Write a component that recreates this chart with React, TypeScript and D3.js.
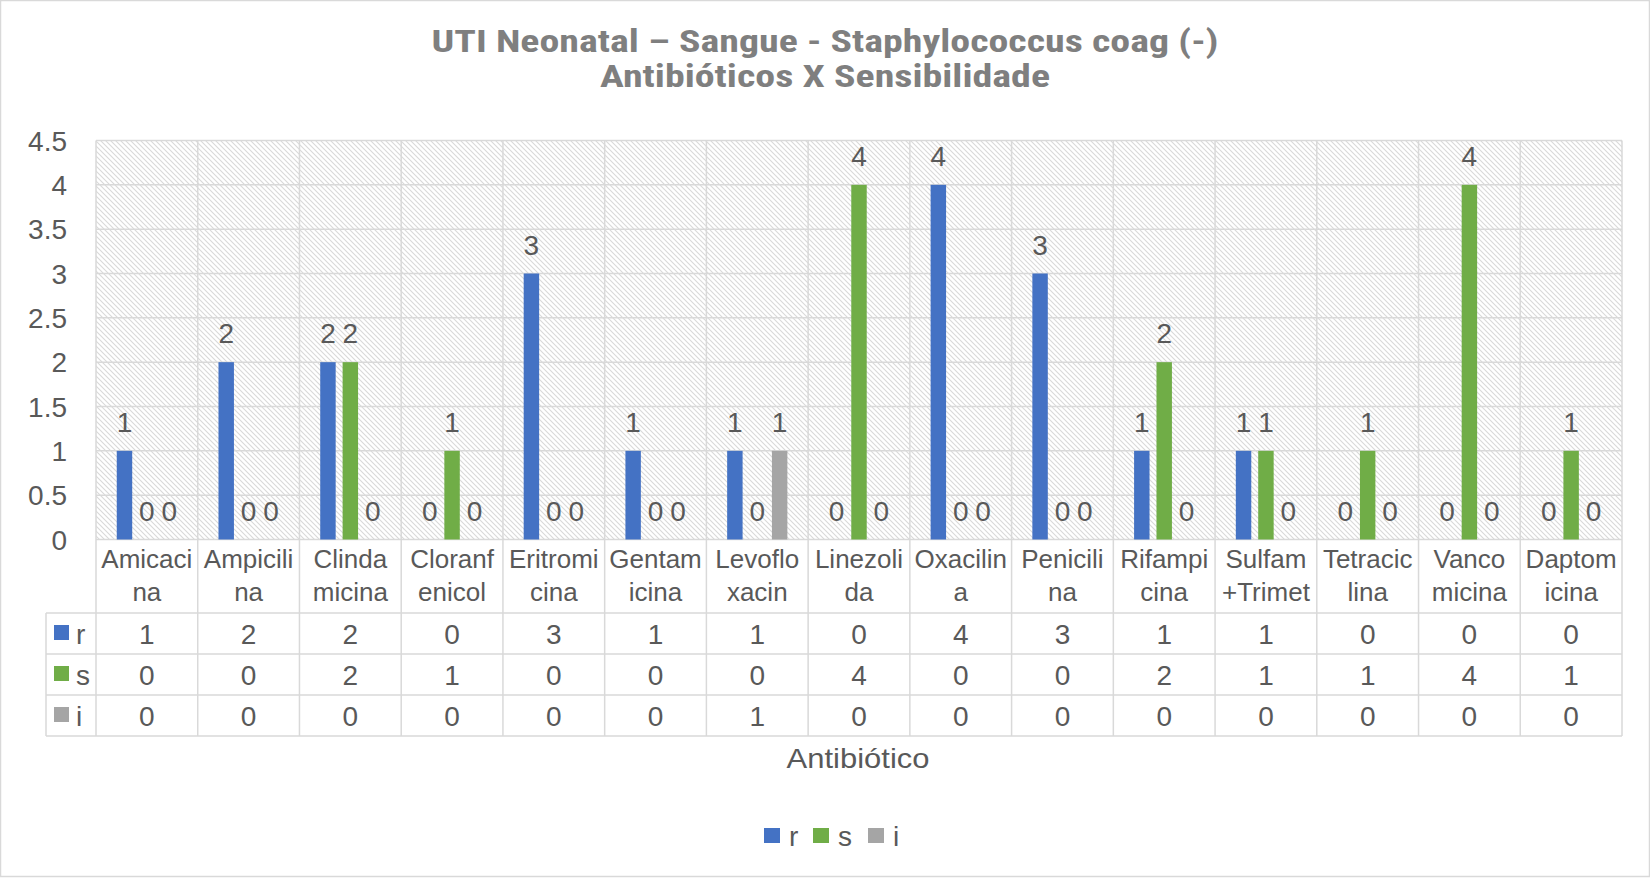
import React from 'react';
import * as d3 from 'd3';

const categories = [
  ['Amicaci', 'na'], ['Ampicili', 'na'], ['Clinda', 'micina'], ['Cloranf', 'enicol'],
  ['Eritromi', 'cina'], ['Gentam', 'icina'], ['Levoflo', 'xacin'], ['Linezoli', 'da'],
  ['Oxacilin', 'a'], ['Penicili', 'na'], ['Rifampi', 'cina'], ['Sulfam', '+Trimet'],
  ['Tetracic', 'lina'], ['Vanco', 'micina'], ['Daptom', 'icina'],
];
const seriesNames = ['r', 's', 'i'];
const rValues = [1, 2, 2, 0, 3, 1, 1, 0, 4, 3, 1, 1, 0, 0, 0];
const sValues = [0, 0, 2, 1, 0, 0, 0, 4, 0, 0, 2, 1, 1, 4, 1];
const iValues = [0, 0, 0, 0, 0, 0, 1, 0, 0, 0, 0, 0, 0, 0, 0];
const yTicks = [0, 0.5, 1, 1.5, 2, 2.5, 3, 3.5, 4, 4.5];
const colors = ['#4472c4', '#70ad47', '#a5a5a5'];

const W = 1650, H = 878;
const p = { left: 96, right: 1622, top: 140.5, bottom: 539.5 };
const font = '"Liberation Sans", Arial, sans-serif';
const txt = '#595959';
const line = '#d9d9d9';
const numSize = 28;

export default function App() {
  const values = [rValues, sValues, iValues];
  const keys = categories.map((c, i) => String(i));

  const x = d3.scaleBand().domain(keys).range([p.left, p.right]).padding(0);
  const bw = x.bandwidth();
  const x1 = d3.scaleBand().domain(seriesNames)
    .range([bw * 0.204, bw * 0.796]).paddingInner(0.31).paddingOuter(0);
  const y = d3.scaleLinear().domain([0, 4.5]).range([p.bottom, p.top]);

  // data table rows
  const rowH = 41;
  const rowTops = seriesNames.map((s, i) => 613 + i * rowH);
  const tableLeft = 46;

  return (
    <div style={{ position: 'absolute', left: 0, top: 0 }}>
      <svg width={W} height={H} style={{ display: 'block', fontFamily: font }}>
        <defs>
          <pattern id="hatch" width="5" height="5" patternUnits="userSpaceOnUse">
            <rect width="5" height="5" fill="#fff" />
            <path d="M0,0L5,5M-1,4L1,6M4,-1L6,1" stroke="#d9d9d9" strokeWidth="1.1" />
          </pattern>
        </defs>
        <rect x={0.5} y={0.5} width={W - 1} height={H - 2} fill="#fff" stroke={line} strokeWidth={1.5} />

        {/* title */}
        <text x={825} y={52} textAnchor="middle" fontSize={31} fontWeight="bold" fill="#7f7f7f"
          fontFamily='"Liberation Sans Narrow", "Roboto Condensed", Roboto, sans-serif'
          textLength={787} lengthAdjust="spacingAndGlyphs">
          UTI Neonatal – Sangue - Staphylococcus coag (-)
        </text>
        <text x={825} y={87} textAnchor="middle" fontSize={31} fontWeight="bold" fill="#7f7f7f"
          fontFamily='"Liberation Sans Narrow", "Roboto Condensed", Roboto, sans-serif'
          textLength={450} lengthAdjust="spacingAndGlyphs">
          Antibióticos X Sensibilidade
        </text>

        {/* plot area */}
        <rect x={p.left} y={p.top} width={p.right - p.left} height={p.bottom - p.top} fill="url(#hatch)" />
        {yTicks.map(t => (
          <line key={'g' + t} x1={p.left} x2={p.right} y1={y(t)} y2={y(t)} stroke={line} strokeWidth={1.5} />
        ))}
        {keys.map(k => (
          <line key={'v' + k} x1={x(k)} x2={x(k)} y1={p.top} y2={736} stroke={line} strokeWidth={1.5} />
        ))}
        <line x1={p.right} x2={p.right} y1={p.top} y2={736} stroke={line} strokeWidth={1.5} />
        {yTicks.map(t => (
          <text key={'t' + t} x={67} y={y(t)} dy="0.36em" textAnchor="end" fontSize={numSize} fill={txt}>{t}</text>
        ))}

        {/* bars + data labels */}
        {keys.map((k, ci) => seriesNames.map((s, si) => {
          const v = values[si][ci];
          const bx = x(k)! + x1(s)!;
          return (
            <g key={k + s}>
              {v > 0 && <rect x={bx} y={y(v)} width={x1.bandwidth()} height={y(0) - y(v)} fill={colors[si]} />}
              <text x={bx + x1.bandwidth() / 2} y={y(v) - 19} textAnchor="middle" fontSize={numSize} fill={txt}>{v}</text>
            </g>
          );
        }))}

        {/* category labels */}
        {keys.map((k, ci) => (
          <text key={'c' + k} x={x(k)! + bw / 2} textAnchor="middle" fontSize={26} fill={txt}>
            <tspan x={x(k)! + bw / 2} y={568}>{categories[ci][0]}</tspan>
            <tspan x={x(k)! + bw / 2} y={601}>{categories[ci][1]}</tspan>
          </text>
        ))}

        {/* data table */}
        <line x1={tableLeft} x2={p.right} y1={rowTops[0]} y2={rowTops[0]} stroke={line} strokeWidth={1.5} />
        {rowTops.map((rt, i) => (
          <line key={'h' + i} x1={tableLeft} x2={p.right} y1={rt + rowH} y2={rt + rowH} stroke={line} strokeWidth={1.5} />
        ))}
        <line x1={tableLeft} x2={tableLeft} y1={rowTops[0]} y2={rowTops[2] + rowH} stroke={line} strokeWidth={1.5} />
        {seriesNames.map((s, si) => (
          <g key={'row' + s}>
            <rect x={54} y={rowTops[si] + 12} width={15} height={15} fill={colors[si]} />
            <text x={76} y={rowTops[si] + rowH / 2} dy="0.36em" fontSize={numSize} fill={txt}>{s}</text>
            {keys.map((k, ci) => (
              <text key={k} x={x(k)! + bw / 2} y={rowTops[si] + rowH / 2} dy="0.36em" textAnchor="middle" fontSize={numSize} fill={txt}>
                {values[si][ci]}
              </text>
            ))}
          </g>
        ))}

        {/* axis title */}
        <text x={858} y={768} textAnchor="middle" fontSize={28} fill={txt}
          textLength={143} lengthAdjust="spacingAndGlyphs">Antibiótico</text>

        {/* legend */}
        {seriesNames.map((s, si) => {
          const lx = [764, 813, 868][si];
          return (
            <g key={'lg' + s}>
              <rect x={lx} y={828} width={16} height={15} fill={colors[si]} />
              <text x={lx + 25} y={846} fontSize={numSize} fill={txt}>{s}</text>
            </g>
          );
        })}
      </svg>
    </div>
  );
}
